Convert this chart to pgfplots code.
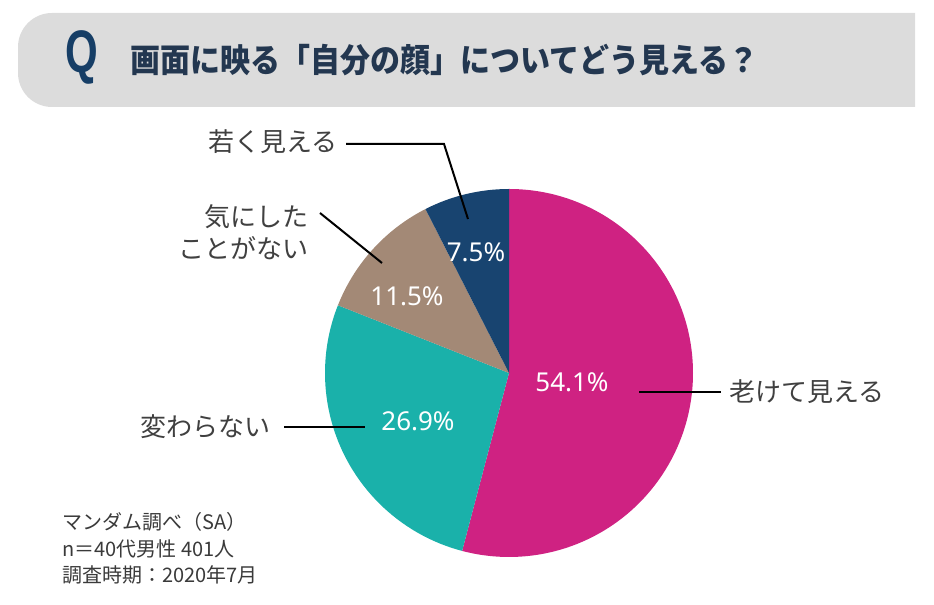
\documentclass[border=0pt]{standalone}
\usepackage{pgfplots}
\pgfplotsset{compat=1.18}
\usepackage{pgfplotstable}
\usepackage{fontspec}
\setmainfont{Noto Sans CJK JP}
\newfontfamily\jp{Noto Sans CJK JP}
\newfontfamily\num{Noto Sans}
\newfontfamily\qfont{Liberation Sans}
\definecolor{cMag}{RGB}{207,34,130}
\definecolor{cTeal}{RGB}{26,177,170}
\definecolor{cBrown}{RGB}{163,137,118}
\definecolor{cNavy}{RGB}{24,68,112}
\definecolor{banner}{RGB}{220,220,220}
\definecolor{qnavy}{RGB}{22,62,102}
\definecolor{titletxt}{RGB}{35,55,80}
\definecolor{lbl}{RGB}{64,64,64}
\definecolor{note}{RGB}{58,58,58}

\pgfplotstableread{
id value
1 54.1
2 26.9
3 11.5
4 7.5
}\piedata

\begin{document}
\begin{tikzpicture}
\pgfplotstablegetelem{0}{value}\of\piedata \let\vA\pgfplotsretval
\pgfplotstablegetelem{1}{value}\of\piedata \let\vB\pgfplotsretval
\pgfplotstablegetelem{2}{value}\of\piedata \let\vC\pgfplotsretval
\pgfplotstablegetelem{3}{value}\of\piedata \let\vD\pgfplotsretval
\pgfmathsetmacro\aA{90}
\pgfmathsetmacro\aB{\aA-3.6*\vA}
\pgfmathsetmacro\aC{\aB-3.6*\vB}
\pgfmathsetmacro\aD{\aC-3.6*\vC}
\pgfmathsetmacro\aE{\aD-3.6*\vD}
\begin{axis}[x=0.5pt,y=0.5pt,xmin=0,xmax=934,ymin=0,ymax=605,hide axis,clip=false]
% banner
\fill[banner] (axis cs:915,498) -- (axis cs:915,592) {[rounded corners=17pt] -- (axis cs:18,592) -- (axis cs:18,498)} -- cycle;
\node[text=qnavy, font=\qfont\bfseries\fontsize{30}{30}\selectfont] at (axis cs:82,548) {\scalebox{0.7}[1]{Q}};
\node[anchor=west, text=titletxt, font=\jp\bfseries\fontsize{15}{15}\selectfont] at (axis cs:123,545) {\scalebox{1}[1.1]{画面に映る「自分の顔」についてどう見える？}};
% pie
\fill[cMag] (axis cs:509,232) -- ++(\aA:92pt) arc[start angle=\aA, end angle=\aB, radius=92pt] -- cycle;
\fill[cTeal] (axis cs:509,232) -- ++(\aB:92pt) arc[start angle=\aB, end angle=\aC, radius=92pt] -- cycle;
\fill[cBrown] (axis cs:509,232) -- ++(\aC:92pt) arc[start angle=\aC, end angle=\aD, radius=92pt] -- cycle;
\fill[cNavy] (axis cs:509,232) -- ++(\aD:92pt) arc[start angle=\aD, end angle=\aE, radius=92pt] -- cycle;
% percent labels
\node[text=white, font=\num\fontsize{13}{13}\selectfont] at (axis cs:572,223) {\vA\%};
\node[text=white, font=\num\fontsize{13}{13}\selectfont] at (axis cs:418,184) {\vB\%};
\node[text=white, font=\num\fontsize{13}{13}\selectfont] at (axis cs:407,309) {\vC\%};
\node[text=white, font=\num\fontsize{13}{13}\selectfont] at (axis cs:476,353) {\vD\%};
% leader lines
\draw[black, line width=1pt] (axis cs:639,213) -- (axis cs:721,213);
\draw[black, line width=1pt] (axis cs:284,178) -- (axis cs:365,178);
\draw[black, line width=1pt] (axis cs:346,461) -- (axis cs:444,461) -- (axis cs:468,386);
\draw[black, line width=1pt] (axis cs:320,392) -- (axis cs:382,342);
% category labels
\node[anchor=west, text=lbl, font=\jp\fontsize{13}{13}\selectfont, inner sep=0pt] at (axis cs:729,213) {老けて見える};
\node[anchor=east, text=lbl, font=\jp\fontsize{13}{13}\selectfont, inner sep=0pt] at (axis cs:271,178) {変わらない};
\node[anchor=east, text=lbl, font=\jp\fontsize{13}{13}\selectfont, inner sep=0pt] at (axis cs:338,463) {若く見える};
\node[anchor=east, align=right, text=lbl, font=\jp\fontsize{13}{16}\selectfont, inner sep=0pt] at (axis cs:309,373) {気にした\\ことがない};
% note
\node[anchor=north west, align=left, text=note, font=\jp\fontsize{10}{13.3}\selectfont, inner sep=0pt] at (axis cs:62,93) {マンダム調べ（SA）\\n＝40代男性 401人\\調査時期：2020年7月};
\end{axis}
\pgfresetboundingbox
\path (current axis.south west) rectangle (current axis.north east);
\end{tikzpicture}
\end{document}
